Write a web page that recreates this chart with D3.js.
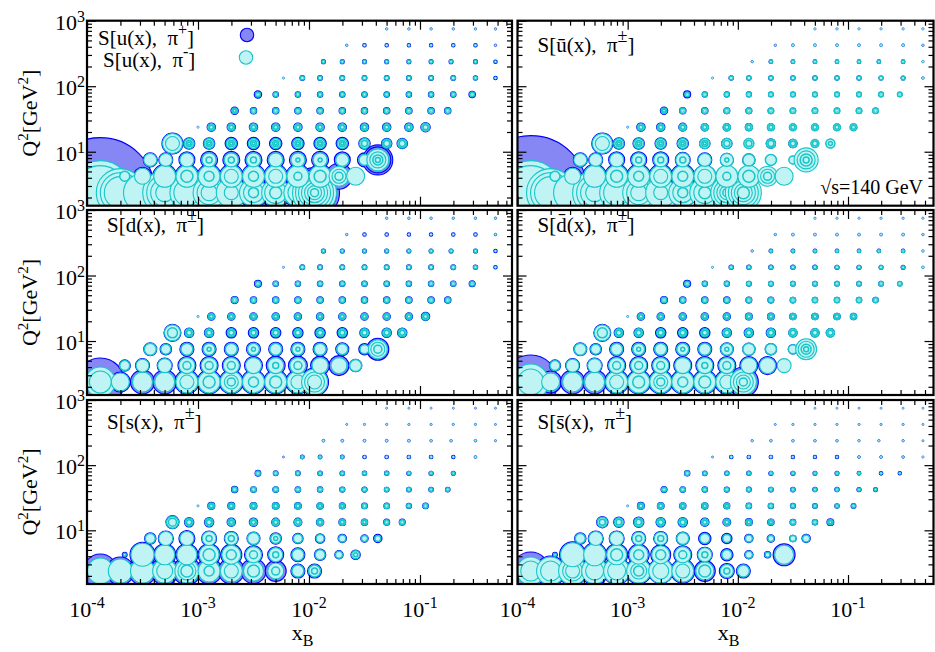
<!DOCTYPE html>
<html><head><meta charset="utf-8">
<script src="https://cdn.jsdelivr.net/npm/d3@7"></script>
<style>
body{margin:0;background:#fff}
text{font-family:"Liberation Serif","Times New Roman",serif;fill:#000}
</style></head>
<body><svg id="c" width="935" height="652"></svg>
<script>
// ---------- DATA ----------
// log10(Q^2) of each row of bins
const q2RowsLog = [0.375,0.625,0.875,1.125,1.375,1.625,1.875,2.125,2.375,2.625,2.875];
// log10(x_B) of each bin centre, per row
const xCellsLog = [
 "-3.88 -3.7 -3.5 -3.3 -3.1 -2.9 -2.7 -2.5 -2.3 -2.1 -1.95",
 "-3.66 -3.5 -3.3 -3.1 -2.9 -2.7 -2.5 -2.3 -2.1 -1.9 -1.73 -1.58",
 "-3.43 -3.29 -3.1 -2.9 -2.7 -2.5 -2.3 -2.1 -1.9 -1.7 -1.5 -1.38",
 "-3.23 -3.08 -2.9 -2.7 -2.5 -2.3 -2.1 -1.9 -1.7 -1.5 -1.3 -1.16",
 "-3.0 -2.88 -2.7 -2.5 -2.3 -2.1 -1.9 -1.7 -1.5 -1.3 -1.1 -0.95",
 "-2.67 -2.5 -2.3 -2.1 -1.9 -1.7 -1.5 -1.3 -1.1 -0.9 -0.75",
 "-2.46 -2.3 -2.1 -1.9 -1.7 -1.5 -1.3 -1.1 -0.9 -0.7 -0.53",
 "-2.23 -2.06 -1.9 -1.7 -1.5 -1.3 -1.1 -0.9 -0.7 -0.5 -0.32",
 "-1.87 -1.7 -1.5 -1.3 -1.1 -0.9 -0.72 -0.5 -0.32",
 "-1.66 -1.5 -1.3 -1.1 -0.9 -0.7 -0.5 -0.32",
 "-1.3 -1.1 -0.9 -0.7 -0.5 -0.32"
];
// bubble radii (sensitivity), per row; "a|b|c" = concentric rings of one bin
const uPlus = [
 "55 22 16 20 16 15 14 15 15 15 25|22",
 "6 9 12 12 12 12 12 12 12 12 13 7",
 "7 7 8 8.5 8.5 8.5 8.5 8.5 8.5 8 7 15|13",
 "10.5 5.5 5.5 6 6 6 6 6 6 5.5 5 5",
 "1 4 4 4 4 4 4 4 4 4 4 4.5",
 "3.5 3 3 3 3 3 3 3 3 3 3",
 "3.5 2.5 2.5 2.5 2.5 2.5 2.5 2.5 2.5 2.5 3",
 "1 2.2 2.2 2.2 2.2 2.2 2.2 2.2 2.2 2 1.5",
 "1.8 1.8 1.8 1.8 1.8 1.8 1.8 1.8 1.5",
 "1.2 1.5 1.5 1.5 1.5 1.5 1.5 1.3",
 "1.2 1.2 1.2 1.2 1.2 1.2"
];
const uMinus = [
 "32|27 24|20|16 19 22|18|14|9 17|13 16|12|8 15|7 14|10|5 14|11|6 14|10 22|19|16|13|10|7|4",
 "5 8 11 11|6 11|5 11|7 11|5 11|7 11|4 11|6 10|7|4 9",
 "6.5 6.5 7 7|3 7|3 7|3 7 7|2 7|2 6.5 5.5 11|8|5|2.5",
 "10|7 5|3|1.5 5|3|1.5 5|3|1.5 5|3|1.5 5|3|1.5 5|3|1.5 5|3|1.5 5|3|1.5 5|3 4.5|3 4.5|3",
 "1 3.5|2 3.5|2 3.5|2 3.5|2 3.5|2 3.5|2 3.5|2 3.5|2 3.5|2 3.5|2 4|2.5",
 "2.8|1.5 2.6|1.3 2.6|1.3 2.6|1.3 2.6|1.3 2.6|1.3 2.6|1.3 2.6|1.3 2.6|1.3 2.6|1.3 2.6|1.3",
 "2.5|1.2 2.1|1 2.1|1 2.1|1 2.1|1 2.1|1 2.1|1 2.1|1 2.1|1 2.1|1 2.3|1",
 "1 2 2 2 2 2 2 2 2 1.8 1.2",
 "1.6 1.6 1.6 1.6 1.6 1.6 1.6 1.6 1.2",
 "1 1.3 1.3 1.3 1.3 1.3 1.3 1",
 "1 1 1 1 1 1"
];
const ubarPlus = [
 "57 22 16 20 16 15 14 14 14 13 14",
 "6 9 12 12 12 12 12 11 10 9 8 6",
 "7 7 8 8 8 7.5 7 6.5 6 5 3.5 8",
 "10.5 5.5 5.5 5.5 5.5 5 5 4.5 4.5 4 3.5 4",
 "1 4 4 3.8 3.5 3.5 3.3 3.2 3 3 3 3",
 "3.5 3 3 2.8 2.8 2.6 2.5 2.5 2.5 2.5 2.5",
 "3.3 2.4 2.4 2.3 2.2 2.2 2.2 2.1 2.1 2.1 2",
 "1 2 2 2 2 2 1.9 1.9 1.8 1.8 1.3",
 "1.2 1.7 1.7 1.7 1.6 1.6 1.6 1.6 1.2",
 "1.2 1.4 1.4 1.4 1.4 1.4 1.4 1.2",
 "1.1 1.1 1.1 1.1 1.1 1.1"
];
const ubarMinus = [
 "32|27 24|20|16 19 22|18|14|9 17|13 16|12|8 15|7 14|10|5 15|11|6 16|13|10|7|4 18|15|12|9|6",
 "5 8 11 11|6 11|5 11|7 11|5 11|7 11|4 11|6 10|7|4 9",
 "6.5 6.5 7 7|3 7|3 7|3 6.5 6.5|2 6 5.5 4 12|9|6|3",
 "10|7 5|3|1.5 5|3|1.5 5|3|1.5 5|3|1.5 5|3|1.5 5|3 5|3 4.5|3 4|2.5 4|2.5 4.5|2",
 "1 3.5|2 3.5|2 3.5|2 3.5|2 3.5|2 3.5|2 3.5|2 3.5|2 3.5|2 3.5|2 3.5|2",
 "2.8|1.5 2.8|1.4 2.8|1.4 2.8|1.4 2.8|1.4 2.8|1.4 2.8|1.4 2.8|1.4 2.8|1.4 2.8|1.4 2.8|1.4",
 "2.3|1 2.3|1 2.3|1 2.3|1 2.3|1 2.3|1 2.3|1 2.3|1 2.3|1 2.3|1 2.3|1",
 "1 2 2 2 2 2 2 2 2 1.8 1.2",
 "1 1.6 1.6 1.6 1.6 1.6 1.6 1.6 1.2",
 "1 1.3 1.3 1.3 1.3 1.3 1.3 1",
 "1 1 1 1 1 1"
];
const dPlus = [
 "24 10 12 12 12 12 12 12 12 12 14",
 "5.5 7 7.5 9 9 9 9 9.5 9.5 9.5 10 6",
 "6.5 5.5 7 7 7 7 7 7 7 6.5 5.5 11",
 "8.5 4.5 4.5 5 5 5 5 5 5 4.5 4.5 4.5",
 "1 3.5 3.5 3.5 3.5 3.5 3.5 3.5 3.5 3.5 3.5 4",
 "3.3 3 3 3 3 3 3 3 3 3 3",
 "3.3 2.5 2.5 2.5 2.5 2.5 2.5 2.5 2.5 2.5 2.8",
 "1 2.2 2.2 2.2 2.2 2.2 2.2 2.2 2.2 2 1.5",
 "1.8 1.8 1.8 1.8 1.8 1.8 1.8 1.8 1.5",
 "1.2 1.5 1.5 1.5 1.5 1.5 1.5 1.3",
 "1.2 1.2 1.2 1.2 1.2 1.2"
];
const dMinus = [
 "15|11 9 10 10 11|7 11|6 11|7|4 11|5 11|6 11|7 13|10|7",
 "5 6.5 7 8|4 8|4 8|4 8 8|3 8|4 8 8 6",
 "6 5 6 6|2 6 6|2 6 6|2 6 5.5 4.5 9.5|7|4",
 "8|5 4|2.5 4|2.5 4|2.5 4|2.5 4|2.5 4|2.5 4|2.5 4|2.5 4|2.5 4|2.5 4|2.5",
 "1 3|1.8 3|1.8 3|1.8 3|1.8 3|1.8 3|1.8 3|1.8 3|1.8 3|1.8 3|1.8 3.5|2",
 "2.8|1.4 2.6|1.3 2.6|1.3 2.6|1.3 2.6|1.3 2.6|1.3 2.6|1.3 2.6|1.3 2.6|1.3 2.6|1.3 2.6|1.3",
 "2.5|1.2 2.2|1 2.2|1 2.2|1 2.2|1 2.2|1 2.2|1 2.2|1 2.2|1 2.2|1 2.3|1",
 "1 2 2 2 2 2 2 2 2 1.8 1.2",
 "1.6 1.6 1.6 1.6 1.6 1.6 1.6 1.6 1.2",
 "1 1.3 1.3 1.3 1.3 1.3 1.3 1",
 "1 1 1 1 1 1"
];
const dbarPlus = [
 "27 11 12 12 12 12 12 12 12 12 15",
 "5.5 7 7.5 9 9 9 9 9 9 9 9 6",
 "6.5 5.5 7 7 7 7 7 6.5 6 5.5 4.5 10",
 "8.5 4.5 4.5 5 5 5 4.5 4.5 4.5 4 4 4",
 "1 3.5 3.5 3.5 3.5 3.5 3.3 3.2 3 3 3 3",
 "3.3 3 3 3 2.8 2.8 2.6 2.5 2.5 2.5 2.5",
 "3.3 2.4 2.4 2.3 2.2 2.2 2.2 2.1 2.1 2.1 2",
 "1 2 2 2 2 2 1.9 1.9 1.8 1.8 1.3",
 "1.2 1.7 1.7 1.7 1.6 1.6 1.6 1.6 1.2",
 "1.2 1.4 1.4 1.4 1.4 1.4 1.4 1.2",
 "1.1 1.1 1.1 1.1 1.1 1.1"
];
const dbarMinus = [
 "18|13 9 10 10 11|7 11|6 11|7|4 11|5 11|6 11|7 13|10|7|4",
 "5 6.5 7 8|4 8|4 8|4 8 8|3 8|4 8 8 7",
 "6 5 6 6|2 6 6|2 6 6|2 6 5.5 4.5 10.5|8|5|2.5",
 "8|5 4|2.5 4|2.5 4|2.5 4|2.5 4|2.5 4|2.5 4|2.5 4|2.5 4|2.5 4|2.5 4|2.5",
 "1 3|1.8 3|1.8 3|1.8 3|1.8 3|1.8 3|1.8 3|1.8 3|1.8 3|1.8 3|1.8 3|1.8",
 "2.8|1.4 2.6|1.3 2.6|1.3 2.6|1.3 2.6|1.3 2.6|1.3 2.6|1.3 2.6|1.3 2.6|1.3 2.6|1.3 2.6|1.3",
 "2.5|1.2 2.2|1 2.2|1 2.2|1 2.2|1 2.2|1 2.2|1 2.2|1 2.2|1 2.2|1 2.2|1",
 "1 1.8 1.8 1.8 1.8 1.8 1.8 1.8 1.8 1.6 1.2",
 "1 1.5 1.5 1.5 1.5 1.5 1.5 1.5 1.1",
 "1 1.2 1.2 1.2 1.2 1.2 1.2 1",
 "0.9 0.9 0.9 0.9 0.9 0.9"
];
const sPlus = [
 "17 14 14 14 14 13 13 12.5 10.5 7 7",
 "2.2 12.5 11 11 11 10.5 9 8 7 5.5 4 4.5",
 "5.5 7.5 8 7.5 7 6.5 5.5 5 4.5 4 3.5 4",
 "6.5 4.5 4.5 4 4 3.8 3.8 3.5 3.2 3 2.8 2.8",
 "1 3.3 3.3 3.2 3.2 3.2 3 2.8 2.7 2.6 2.4 2.6",
 "3 2.7 2.7 2.6 2.5 2.4 2.4 2.2 2.2 2.1 2.1",
 "2.7 2.2 2.2 2.1 2.1 2 2 1.9 1.9 1.8 0",
 "1 1.7 1.7 1.7 1.6 1.6 1.6 1.6 1.5 1.4 0",
 "1.4 1.4 1.4 1.4 1.4 1.3 1.3 1.3 1.1",
 "1 1.1 1.1 1.1 1.1 1.1 1.1 1",
 "1 1 1 1 1 1"
];
const sMinus = [
 "13 12 12 12|8 12|9|6 11|5 11|7 10|6 8|4 6 6|3",
 "1.5 11.5 10 10 10|6 9.5|5 8|4 7|3 6 5 3.5 4|2",
 "5 7 7 7|3 6.5|3 6 5|2 4.5 4 3.5 3 3",
 "6|4 4|2.5 4|2.5 3.5|2|1 3.5|2 3.5|2 3.5|2 3.2|2 3|1.8 2.8|1.6 2.5|1.4 2.5|1.4",
 "1 3|1.8 3|1.8 3|1.8 3|1.8 3|1.8 2.8|1.6 2.6|1.5 2.5|1.4 2.5|1.4 2.2|1.2 2.3|1.2",
 "2.5|1.3 2.5|1.3 2.5|1.3 2.4|1.2 2.3|1.2 2.2|1.1 2.2|1.1 2|1 2|1 1.9|1 1.9|1",
 "2.3|1.1 2|1 2|1 1.9|1 1.9|1 1.8|0.9 1.8|0.9 1.7|0.9 1.7|0.9 1.6|0.8 0",
 "0.8 1.5 1.5 1.5 1.4 1.4 1.4 1.4 1.3 1.2 0",
 "1.2 1.2 1.2 1.2 1.2 1.1 1.1 1.1 0.9",
 "0.8 0.9 0.9 0.9 0.9 0.9 0.9 0.8",
 "0.8 0.8 0.8 0.8 0.8 0.8"
];
const sbarPlus = [
 "19 15 14.5 14 13.5 13 12.5 12 10.5 7.5 7",
 "2.2 13 12 11 10.5 10 9 7.5 6 4 3 11",
 "5.5 7.5 7.5 7 7 6.5 6 5 4 3.5 3 4",
 "5.5 5 5 4.5 4.5 4 3.7 3.3 3 2.7 2.5 3.2",
 "1 3.3 3.2 3 3 2.8 2.6 2.5 2.3 2.2 2 2.2",
 "2.8 2.6 2.5 2.4 2.3 2.2 2.1 2 2 1.9 1.8",
 "2.5 2.1 2 2 1.9 1.9 1.8 1.8 1.7 1.6 1.5",
 "1 1.6 1.6 1.6 1.5 1.5 1.5 1.4 1.4 1.3 1.1",
 "1.2 1.3 1.3 1.3 1.3 1.2 1.2 1.2 1",
 "1 1.1 1.1 1.1 1.1 1.1 1.1 1",
 "1 1 1 1 1 1"
];
const sbarMinus = [
 "14|10 14|10 14|10|7 13|9 13|9 12|8|5 12|8 11|7 9|6 6.5|3 6",
 "1.5 12 11 10|6 9.5|5 9|5 8|4 7|3 5 3.5 2.5 9.5",
 "5 7 7 6.5|3 6.5|3 6 5 4 3.5 3 3 3.5",
 "5|3 4.5|2.8 4.5|2.8 4|2.5 4|2.5 3.5|2 3.2|1.8 3|1.7 2.7|1.5 2.5|1.4 2.3|1.2 2.7|1.5",
 "1 3|1.8 3|1.8 2.8|1.6 2.8|1.6 2.6|1.5 2.4|1.3 2.3|1.2 2.1|1.1 2|1 1.8|1 1.8|1",
 "2.4|1.2 2.4|1.2 2.3|1.2 2.2|1.1 2.1|1.1 2|1 1.9|1 1.8|0.9 1.8|0.9 1.7|0.9 1.6|0.8",
 "2.2|1.1 1.9|1 1.8|0.9 1.8|0.9 1.7|0.9 1.7|0.9 1.6|0.8 1.6|0.8 1.5|0.8 1.4|0.7 1.3|0.7",
 "0.8 1.4 1.4 1.4 1.3 1.3 1.3 1.2 1.2 1.1 0.9",
 "1 1.1 1.1 1.1 1.1 1 1 1 0.8",
 "0.8 0.9 0.9 0.9 0.9 0.9 0.9 0.8",
 "0.8 0.8 0.8 0.8 0.8 0.8"
];
const panelFlavours = ["u(x)", "\u016B(x)", "d(x)", "d\u0304(x)", "s(x)", "s\u0304(x)"];
const xTicks = [1e-4, 1e-3, 1e-2, 1e-1];
const xTickExp = ["-4", "-3", "-2", "-1"];
const yTicks = [10, 100, 1000];
const yTickExp = ["1", "2", "3"];
const yDomain = [1.5, 1000];

// ---------- LAYOUT / STYLE ----------
const colGeom = [{x0: 87, x1: 512, lmax: -0.171}, {x0: 517.5, x1: 933.5, lmax: -0.224}];
const rowGeom = [{y0: 20.7, y1: 205.7}, {y0: 210, y1: 395}, {y0: 400, y1: 584}];
const plusStyle = {fill: "#8686f4", stroke: "#0000ff"};
const minusStyle = {fill: "#c0f3f3", stroke: "#17c6c9"};

const svg = d3.select("#c");
const parseRow = s => s.trim().split(/\s+/).map(t => t.split("|").map(Number));
const series = [[uPlus, uMinus], [ubarPlus, ubarMinus], [dPlus, dMinus], [dbarPlus, dbarMinus], [sPlus, sMinus], [sbarPlus, sbarMinus]];
const cellsX = xCellsLog.map(s => s.trim().split(/\s+/).map(Number));
const strokeFor = rad => rad < 1.5 ? 0.5 * rad : (rad <= 6 ? 1.5 : 1.1);

function rich(g, x, y, parts, size, anchor) {
  const t = g.append("text").attr("x", x).attr("y", y).attr("font-size", size)
    .attr("text-anchor", anchor || "start").style("white-space", "pre");
  let shift = 0;
  parts.forEach(p => {
    const ts = t.append("tspan");
    const target = p.up ? -p.up : (p.down ? p.down : 0);
    if (target - shift !== 0) ts.attr("dy", target - shift);
    shift = target;
    if (p.size) ts.attr("font-size", p.size);
    ts.text(p.t);
  });
  return t;
}

function minorValues(lo, hi) {
  const out = [];
  for (let k = Math.floor(Math.log10(lo)); k <= Math.ceil(Math.log10(hi)); k++)
    for (let m = 2; m <= 9; m++) { const v = m * Math.pow(10, k); if (v >= lo && v <= hi) out.push(v); }
  return out;
}

series.forEach((ser, p) => {
  const r = Math.floor(p / 2), c = p % 2;
  const cg = colGeom[c], rg = rowGeom[r];
  const x = d3.scaleLog().domain([1e-4, Math.pow(10, cg.lmax)]).range([cg.x0, cg.x1]);
  const y = d3.scaleLog().domain(yDomain).range([rg.y1, rg.y0]);
  const g = svg.append("g");
  const cid = "clip" + p;
  svg.append("clipPath").attr("id", cid).append("rect")
    .attr("x", cg.x0).attr("y", rg.y0).attr("width", cg.x1 - cg.x0).attr("height", rg.y1 - rg.y0);
  const marks = g.append("g").attr("clip-path", `url(#${cid})`);

  [0, 1].forEach(si => {
    const st = si === 0 ? plusStyle : minusStyle;
    const rows = ser[si];
    rows.forEach((rowStr, ri) => {
      const radii = parseRow(rowStr);
      const q2 = Math.pow(10, q2RowsLog[ri]);
      radii.forEach((rings, ci) => {
        const xv = Math.pow(10, cellsX[ri][ci]);
        rings.filter(v => v > 0).sort((a, b) => b - a).forEach(rad => {
          marks.append("circle").attr("cx", x(xv)).attr("cy", y(q2)).attr("r", rad)
            .attr("fill", st.fill).attr("stroke", st.stroke)
            .attr("stroke-width", strokeFor(rad));
        });
      });
    });
  });

  // ticks (inward on all four sides)
  const xMinor = minorValues(1e-4, Math.pow(10, cg.lmax));
  const yMinor = minorValues(yDomain[0], yDomain[1]);
  const tickSets = [
    [d3.axisBottom, x, `translate(0,${rg.y1})`],
    [d3.axisTop, x, `translate(0,${rg.y0})`],
    [d3.axisLeft, y, `translate(${cg.x0},0)`],
    [d3.axisRight, y, `translate(${cg.x1},0)`]
  ];
  tickSets.forEach(([ax, sc, tr]) => {
    const isX = sc === x;
    const maj = isX ? xTicks : yTicks;
    const mi = isX ? xMinor : yMinor;
    [[maj, 9], [mi, 5]].forEach(([vals, len]) => {
      const a = g.append("g").attr("transform", tr)
        .call(ax(sc).tickValues(vals).tickSize(-len).tickFormat(""));
      a.select(".domain").remove();
      a.selectAll("line").attr("stroke", "#000").attr("stroke-width", 1.2);
    });
  });

  g.append("rect").attr("x", cg.x0).attr("y", rg.y0).attr("width", cg.x1 - cg.x0)
    .attr("height", rg.y1 - rg.y0).attr("fill", "none").attr("stroke", "#000").attr("stroke-width", 2.2);

  // y tick labels (left column)
  if (c === 0) {
    yTicks.forEach((v, i) => {
      rich(g, 85, y(v) + 9, [{t: "10"}, {t: yTickExp[i], up: 8, size: 16}], 22, "end");
    });
    const cy = (rg.y0 + rg.y1) / 2;
    const yl = rich(g, 0, 0, [{t: "Q"}, {t: "2", up: 9, size: 15}, {t: "[GeV"}, {t: "2", up: 9, size: 15}, {t: "]"}], 22, "middle");
    yl.attr("transform", `translate(37,${cy}) rotate(-90)`);
  }
  // x tick labels (bottom row)
  if (r === 2) {
    xTicks.forEach((v, i) => {
      rich(g, x(v), 617, [{t: "10"}, {t: xTickExp[i], up: 9, size: 16}], 22, "middle");
    });
    rich(g, (cg.x0 + cg.x1) / 2 + 3, 640, [{t: "x"}, {t: "B", down: 6, size: 16}], 22, "middle");
  }

  // panel labels
  const lx = cg.x0 + 20;
  if (p === 0) {
    rich(g, 98, 45, [{t: "S[u(x),  \u03C0"}, {t: "+", up: 10, size: 16}, {t: "]"}], 21);
    rich(g, 103, 67, [{t: "S[u(x),  \u03C0"}, {t: "-", up: 10, size: 16}, {t: "]"}], 21);
    g.append("circle").attr("cx", 247).attr("cy", 35).attr("r", 6.7)
      .attr("fill", plusStyle.fill).attr("stroke", plusStyle.stroke).attr("stroke-width", 1.1);
    g.append("circle").attr("cx", 246).attr("cy", 57.5).attr("r", 6.7)
      .attr("fill", minusStyle.fill).attr("stroke", minusStyle.stroke).attr("stroke-width", 1.1);
  } else {
    const base = [52, 232, 232, 429, 429][p - 1];
    rich(g, lx, base, [{t: "S[" + panelFlavours[p] + ",  \u03C0"}, {t: "\u00B1", up: 10, size: 18}, {t: "]"}], 21);
  }
  if (p === 1) {
    rich(g, 923, 194, [{t: "\u221As=140 GeV"}], 20, "end");
  }
});
</script>
</body></html>
